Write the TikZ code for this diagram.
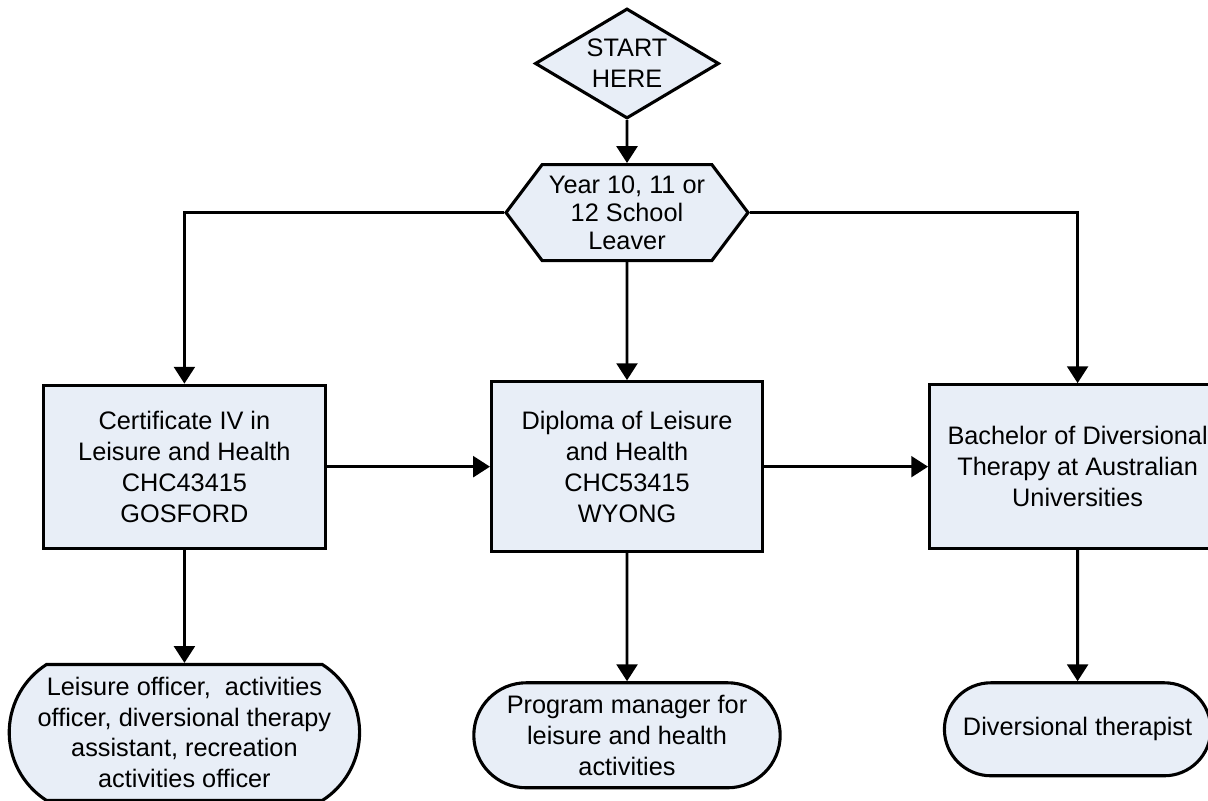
\documentclass[tikz,border=0pt]{standalone}
\usepackage{fontspec}
\setmainfont{Liberation Sans}
\usetikzlibrary{positioning,arrows.meta,shapes.geometric,shapes.misc,shapes.symbols}
\definecolor{boxfill}{RGB}{232,238,247}

\begin{document}
\begin{tikzpicture}[
    node distance=1cm,
    every node/.style={font=\fontsize{18}{22}\selectfont},
    startbox/.style={
        diamond, draw, fill=boxfill, line width=2.2pt,
        inner sep=0pt, aspect=1.68, align=center,
        minimum width=4.6cm, minimum height=2.75cm
    },
    leaverbox/.style={
        signal, signal to=west and east, signal pointer angle=106,
        draw, fill=boxfill, line width=2.2pt, align=center,
        inner sep=0pt, minimum width=6.05cm, minimum height=2.4cm,
        font=\fontsize{18}{20}\selectfont
    },
    coursebox/.style={
        rectangle, draw, fill=boxfill, line width=2.2pt, align=center
    },
    jobbox/.style={
        rounded rectangle, draw, fill=boxfill, line width=2.2pt,
        align=center, inner sep=2pt
    },
    arrow/.style={-{Triangle[length=4.2mm, width=5.2mm]}, line width=2pt, black}
]
\useasboundingbox (0,0) rectangle (30.2,20);

\node[startbox] (start) at (15.675,18.4125) {START\\HERE};

\node[leaverbox, below=1.075cm of start] (leaver) {Year 10, 11 or\\12 School\\Leaver};

\node[coursebox, minimum width=6.775cm, minimum height=4.25cm,
      below=2.95cm of leaver] (diploma) {Diploma of Leisure\\and Health\\CHC53415\\WYONG};

\node[coursebox, minimum width=7.05cm, minimum height=4.075cm,
      left=4.075cm of diploma] (cert) {Certificate IV in\\Leisure and Health\\CHC43415\\GOSFORD};

\node[coursebox, minimum width=7.4cm, minimum height=4.1cm,
      right=4.1cm of diploma] (bachelor) {Bachelor of Diversional\\Therapy at Australian\\Universities};

\node[jobbox, rounded rectangle arc length=115, minimum width=8.9cm, minimum height=3.4cm,
      below=2.83cm of cert] (certjob) {Leisure officer,~ activities\\officer, diversional therapy\\assistant, recreation\\activities officer};

\node[jobbox, minimum width=7.8cm, minimum height=2.625cm,
      below=3.2cm of diploma] (diplomajob) {Program manager for\\leisure and health\\activities};

\node[jobbox, minimum width=6.8cm, minimum height=2.325cm,
      below=3.275cm of bachelor] (bachelorjob) {Diversional therapist};

\draw[arrow] (start) -- (leaver);
\draw[arrow] (leaver.west) -| (cert);
\draw[arrow] (leaver) -- (diploma);
\draw[arrow] (leaver.east) -| (bachelor);
\draw[arrow] (cert) -- (diploma);
\draw[arrow] (diploma) -- (bachelor);
\draw[arrow] (cert) -- (certjob);
\draw[arrow] (diploma) -- (diplomajob);
\draw[arrow] (bachelor) -- (bachelorjob);

\end{tikzpicture}
\end{document}
